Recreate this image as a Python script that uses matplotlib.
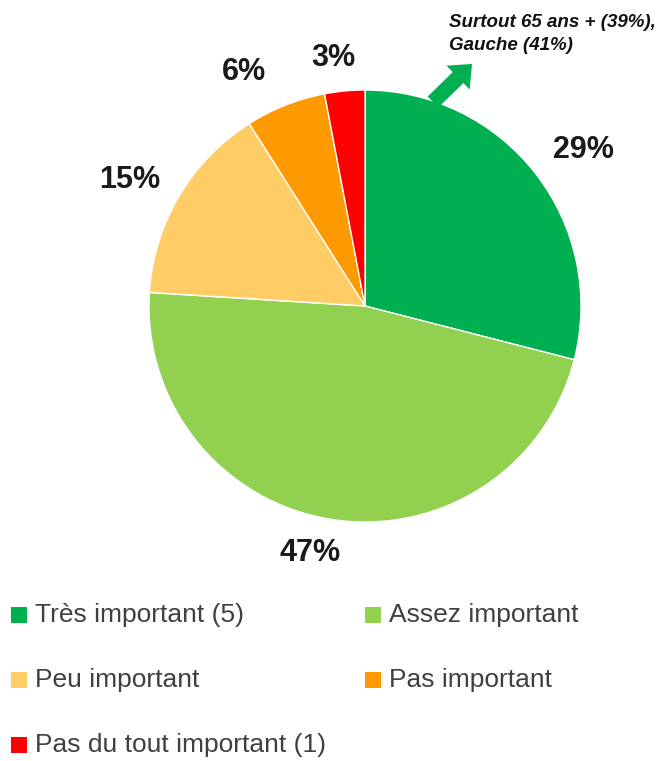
import matplotlib
matplotlib.use("Agg")
import matplotlib.pyplot as plt
from matplotlib.patches import Rectangle

plt.rcParams['font.family'] = ['Liberation Sans', 'DejaVu Sans']

categories = ["Très important (5)", "Assez important", "Peu important",
              "Pas important", "Pas du tout important (1)"]
values = [29, 47, 15, 6, 3]
colors = ["#00B050", "#92D050", "#FFCC66", "#FF9900", "#FF0000"]
note = "Surtout 65 ans + (39%),\nGauche (41%)"

W, H = 664, 761
fig = plt.figure(figsize=(W / 100, H / 100), dpi=100)
ax = fig.add_axes([0, 0, 1, 1])

# pie, clockwise from the top
cx, cy, r = 365, H - 306, 216
ax.pie(values, colors=colors, startangle=90, counterclock=False,
       center=(cx, cy), radius=r, frame=True,
       wedgeprops=dict(edgecolor='white', linewidth=1))
ax.set_xlim(0, W)
ax.set_ylim(0, H)
ax.set_aspect('equal')
ax.axis('off')

# percentage labels placed outside the wedges
label_pos = [(583, 150), (310, 553), (130, 180), (244, 72), (333, 58)]
for v, (x, y) in zip(values, label_pos):
    ax.text(x, H - y, f"{v}%", ha='center', va='center',
            fontsize=22, fontweight='bold', color='#1a1a1a')

# green arrow + note
ax.annotate("", xy=(472, H - 64), xytext=(433, H - 102),
            arrowprops=dict(arrowstyle="simple,head_width=1.2,head_length=0.7,tail_width=0.55",
                            mutation_scale=20, color="#00B050", lw=0,
                            shrinkA=0, shrinkB=0))
ax.text(449, H - 34, note, ha='left', va='center', fontsize=13.5,
        fontweight='bold', style='italic', color='#111111', linespacing=1.5)

# legend (two columns)
leg_rows = [615, 680, 745]
leg_cols = [11, 365]
sq = 16
for i, (cat, col) in enumerate(zip(categories, colors)):
    x = leg_cols[i % 2]
    y = H - leg_rows[i // 2]
    ax.add_patch(Rectangle((x, y - sq / 2), sq, sq, facecolor=col, edgecolor='none'))
    ax.text(x + 24, y, cat, ha='left', va='center', fontsize=19, color='#404040')

fig.savefig("out.png", dpi=100)
